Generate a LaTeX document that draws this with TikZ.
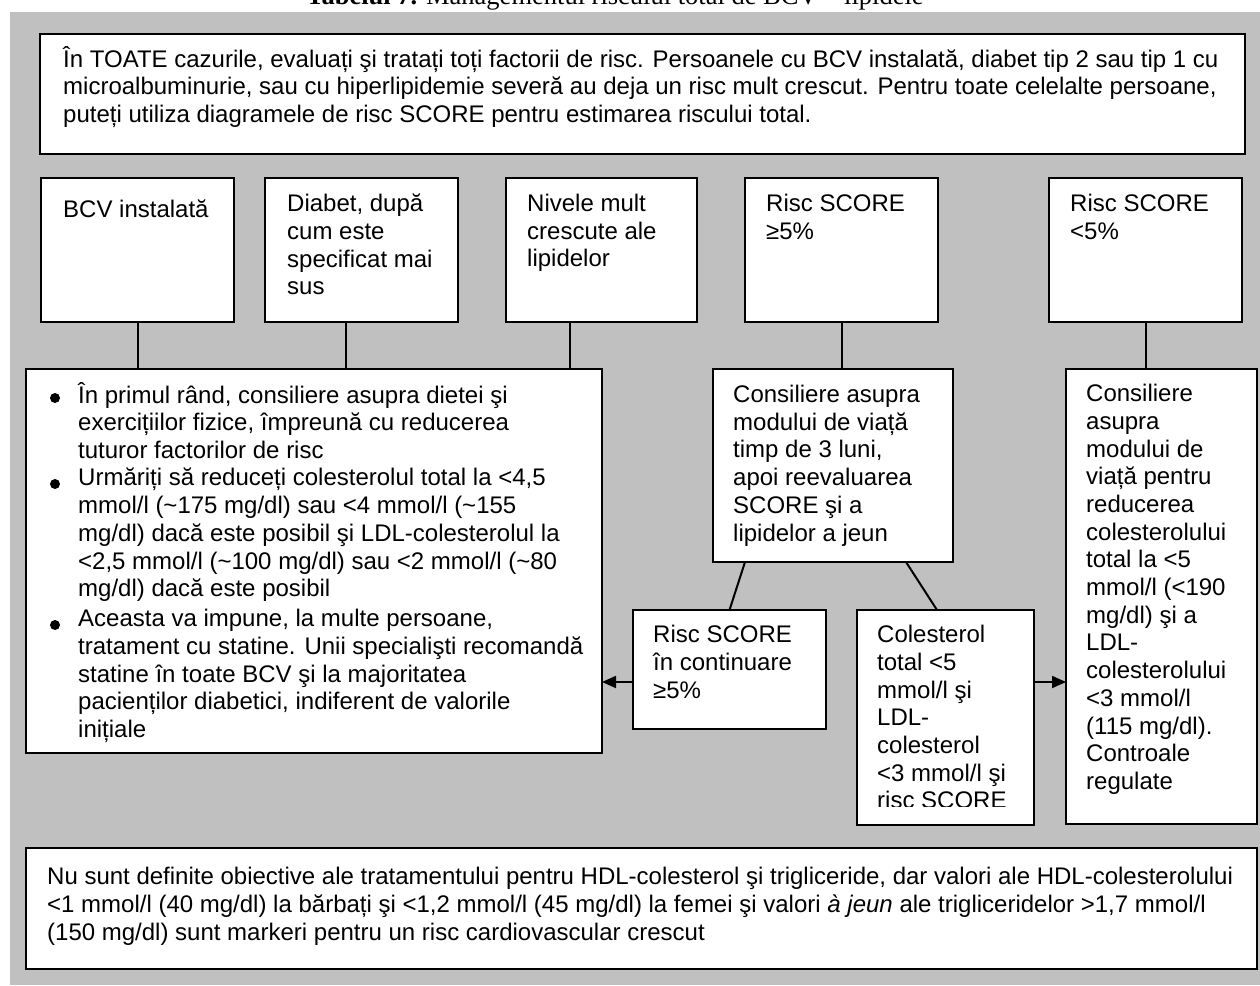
\documentclass[tikz,border=0pt]{standalone}
\usepackage{fontspec}
\setmainfont{Liberation Sans}
\newfontfamily\titlefont{Liberation Serif}
\usetikzlibrary{arrows.meta,positioning,calc}
\definecolor{bggray}{RGB}{192,192,192}
\tikzset{
  bx/.style={rectangle,draw=black,fill=white,line width=2.6pt,inner sep=0pt,outer sep=0pt,anchor=north west},
  % text is placed by the baseline of its first line
  tx/.style={inner sep=0pt,anchor=north west,yshift=23pt,align=left,
    execute at begin node={\rule{0pt}{23pt}},font=\fontsize{24}{27.7}\selectfont},
  bul/.style={circle,fill=black,minimum size=10pt,inner sep=0pt},
  ttl/.style={inner sep=0pt,anchor=base,font=\titlefont\fontsize{26.5}{30}\selectfont},
  lnk/.style={draw=black,line width=2pt},
  arr/.style={lnk,-{Triangle[length=14pt,width=12pt]}},
}
\begin{document}
\begin{tikzpicture}[x=1pt,y=-1pt]
\useasboundingbox (0,0) rectangle (1260,985);
\fill[bggray] (10,12) rectangle (1260,985);
\node[ttl] (title) at (615,5) {\textbf{Tabelul 7.} Managementul riscului total de BCV – lipidele};
% ---- note on top
\node[bx,minimum width=1205,minimum height=120] (note) at (40,34) {};
\node[tx] (notet) at (63,69)
  {În TOATE cazurile, evaluați şi tratați toți factorii de risc. Persoanele cu BCV instalată, diabet tip 2 sau tip 1 cu\\
   microalbuminurie, sau cu hiperlipidemie severă au deja un risc mult crescut. Pentru toate celelalte persoane,\\
   puteți utiliza diagramele de risc SCORE pentru estimarea riscului total.};
% ---- the five starting cases
\node[bx,minimum width=193,minimum height=144] (bcv)  at (41,178)   {};
\node[bx,minimum width=193,minimum height=144] (diab) at (265,178)  {};
\node[bx,minimum width=191,minimum height=144] (niv)  at (506,178)  {};
\node[bx,minimum width=193,minimum height=144] (rhi)  at (745,178)  {};
\node[bx,minimum width=193,minimum height=144] (rlo)  at (1049,178) {};
\node[tx] (bcvt)  at (63,217)   {BCV instalată};
\node[tx] (diabt) at (287,217)  {Diabet, după\\ cum este\\ specificat mai\\ sus};
\node[tx] (nivt)  at (527,217)  {Nivele mult\\ crescute ale\\ lipidelor};
\node[tx] (rhit)  at (766,217)  {Risc SCORE\\ ≥5\%};
\node[tx] (rlot)  at (1070,217) {Risc SCORE\\ <5\%};
% ---- advice for high risk
\node[bx,minimum width=576,minimum height=384] (adv) at (26,369) {};
\node[bul] (b1) at (55,398) {};
\node[bul] (b2) at (55,484) {};
\node[bul] (b3) at (55,625) {};
\node[tx] (adv1) at (78,405)
  {În primul rând, consiliere asupra dietei şi\\ exercițiilor fizice, împreună cu reducerea\\ tuturor factorilor de risc};
\node[tx] (adv2) at (78,491)
  {Urmăriți să reduceți colesterolul total la <4,5\\ mmol/l (\textasciitilde175 mg/dl) sau <4 mmol/l (\textasciitilde155\\
   mg/dl) dacă este posibil şi LDL-colesterolul la\\ <2,5 mmol/l (\textasciitilde100 mg/dl) sau <2 mmol/l (\textasciitilde80\\
   mg/dl) dacă este posibil};
\node[tx] (adv3) at (78,632)
  {Aceasta va impune, la multe persoane,\\ tratament cu statine. Unii specialişti recomandă\\
   statine în toate BCV şi la majoritatea\\ pacienților diabetici, indiferent de valorile\\ inițiale};
% ---- life style, then re-evaluation
\node[bx,minimum width=240,minimum height=193] (life) at (713,369) {};
\node[tx] (lifet) at (733,408)
  {Consiliere asupra\\ modului de viață\\ timp de 3 luni,\\ apoi reevaluarea\\ SCORE şi a\\ lipidelor a jeun};
\node[bx,minimum width=193,minimum height=119] (cont) at (633,610) {};
\node[tx] (contt) at (653,648) {Risc SCORE\\ în continuare\\ ≥5\%};
\node[bx,minimum width=177,minimum height=215] (col) at (857,610) {};
\begin{scope}
  \clip (857,612) rectangle (1034,806);
  \node[tx] (colt) at (877,648)
    {Colesterol\\ total <5\\ mmol/l şi\\ LDL-\\ colesterol\\ <3 mmol/l şi\\ risc SCORE};
\end{scope}
% ---- goal for low risk
\node[bx,minimum width=191,minimum height=455] (goal) at (1066,369) {};
\node[tx] (goalt) at (1086,407)
  {Consiliere\\ asupra\\ modului de\\ viață pentru\\ reducerea\\ colesterolului\\ total la <5\\ mmol/l (<190\\
   mg/dl) şi a\\ LDL-\\ colesterolului\\ <3 mmol/l\\ (115 mg/dl).\\ Controale\\ regulate};
% ---- note at the bottom
\node[bx,minimum width=1231,minimum height=121] (foot) at (26,848) {};
\node[tx] (foott) at (47,890)
  {Nu sunt definite obiective ale tratamentului pentru HDL-colesterol şi trigliceride, dar valori ale HDL-colesterolului\\
   <1 mmol/l (40 mg/dl) la bărbați şi <1,2 mmol/l (45 mg/dl) la femei şi valori \textit{à jeun} ale trigliceridelor >1,7 mmol/l\\
   (150 mg/dl) sunt markeri pentru un risc cardiovascular crescut};
% ---- connectors
\path ([xshift=-16]diab.south) coordinate (d1) ([xshift=-32]niv.south) coordinate (n1);
\draw[lnk] (bcv.south) -- (bcv.south |- adv.north);
\draw[lnk] (d1) -- (d1 |- adv.north);
\draw[lnk] (n1) -- (n1 |- adv.north);
\draw[lnk] (rhi.south) -- (rhi.south |- life.north);
\draw[lnk] (rlo.south) -- (rlo.south |- goal.north);
\path ([xshift=32]life.south west) coordinate (l1) ([xshift=193]life.south west) coordinate (l2)
      ([xshift=80]col.north west) coordinate (c1);
\draw[lnk] (l1) -- (cont.north);
\draw[lnk] (l2) -- (c1);
\coordinate (ay) at (0,682);
\draw[arr] (cont.west |- ay) -- (adv.east |- ay);
\draw[arr] (col.east |- ay) -- (goal.west |- ay);
\end{tikzpicture}
\end{document}
